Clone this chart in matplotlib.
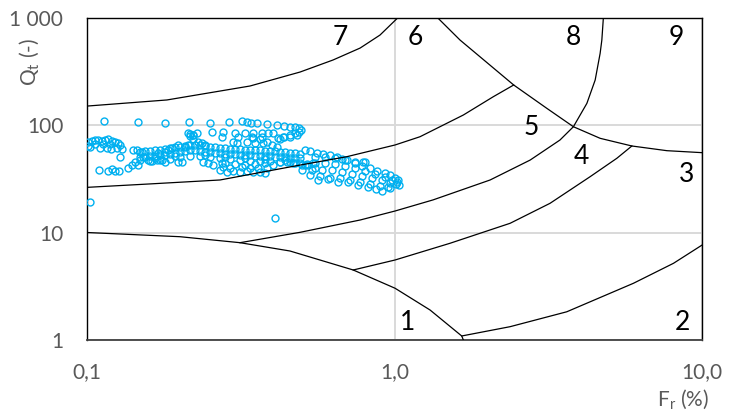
import numpy as np
import matplotlib as mpl
import matplotlib.pyplot as plt

mpl.rcParams['font.family'] = ['Lato', 'DejaVu Sans']

# zone boundaries (Fr %, Qt)
b7_fr = [0.1, 0.182, 0.339, 0.493, 0.631, 0.773, 0.897, 1.027]
b7_qt = [150, 171, 230.6, 311, 402.5, 520, 687, 1000]

b68_fr = [1.378, 1.633, 2.44, 3.126, 3.815, 4.66, 5.91, 7.68, 10.0]
b68_qt = [1000, 617, 235.6, 143, 96.4, 75.2, 63.8, 57.7, 55.3]

b89_fr = [4.775, 4.72, 4.66, 4.49, 4.22, 3.815, 3.45, 2.76, 2.045, 1.334, 1.004, 0.773, 0.493, 0.3145]
b89_qt = [1000, 617, 464, 262, 159, 96.4, 72.5, 47.2, 30.8, 20.1, 15.85, 13.07, 10.04, 8.04]

b56_fr = [0.1, 0.160, 0.2707, 0.493, 0.699, 1.004, 1.21, 1.674, 2.095, 2.44]
b56_qt = [26.3, 28.3, 30.8, 42.4, 50.7, 65.2, 77.8, 123.9, 183.4, 235.6]

b1_fr = [0.1, 0.2006, 0.3145, 0.457, 0.734, 1.004, 1.305, 1.654, 1.674]
b1_qt = [10, 9.14, 8.04, 6.73, 4.48, 3.03, 1.90, 1.089, 1.0]

b34_fr = [0.734, 1.004, 1.515, 2.375, 3.204, 4.32, 5.28, 5.91]
b34_qt = [4.48, 5.55, 7.94, 12.18, 18.7, 33.0, 49.0, 63.8]

b23_fr = [1.654, 2.375, 3.63, 5.98, 8.07, 10.0]
b23_qt = [1.09, 1.33, 1.83, 3.37, 5.17, 7.65]

zone_names = ['1', '2', '3', '4', '5', '6', '7', '8', '9']
zone_fr = [1.098, 8.61, 8.87, 4.04, 2.78, 1.166, 0.665, 3.81, 8.23]
zone_qt = [1.47, 1.47, 35.0, 50.4, 93.8, 645, 645, 645, 645]

# CPT points
top_fr = [0.1136, 0.1465, 0.1792, 0.2145, 0.2509, 0.2892, 0.3187, 0.3308, 0.3408, 0.3565, 0.3842,
          0.4141, 0.4363, 0.4563, 0.4737, 0.4882, 0.4955, 0.4882, 0.4737, 0.4563, 0.4330, 0.4172]
top_qt = [109, 106.6, 104.4, 106.6, 104.4, 106.6, 108.9, 106.6, 104.4, 104.4, 102.2,
          100, 97.9, 95.8, 95.8, 93.8, 89.8, 86.0, 84.2, 80.7, 77.3, 75.6]

row2_fr = [0.2129, 0.2277, 0.2547, 0.2765, 0.3025, 0.3259, 0.3460, 0.3701, 0.3871, 0.4019,
           0.2744, 0.3093, 0.3434, 0.3701, 0.4235, 0.4363, 0.4563, 0.4809, 0.2210,
           0.2161, 0.2210, 0.2294, 0.2363, 0.2417,
           0.2980, 0.3070, 0.3308, 0.3512, 0.3729, 0.3989, 0.4141, 0.3460, 0.3646, 0.3842]
row2_qt = [84.2, 84.2, 86.0, 86.0, 84.2, 84.2, 84.2, 84.2, 84.2, 84.2,
           77.3, 77.3, 77.3, 77.3, 74.1, 77.3, 77.3, 80.7, 80.7,
           79.0, 74.1, 69.5, 68.0, 65.2,
           69.5, 68.0, 69.5, 68.0, 68.0, 65.2, 62.5, 75.6, 74.1, 69.5]

left_fr = [0.1008, 0.1038, 0.1061, 0.1085, 0.1119, 0.1144, 0.1170, 0.1206, 0.1234, 0.1261, 0.1023,
           0.1102, 0.1161, 0.1197, 0.1252, 0.1299, 0.1280, 0.1008, 0.1061, 0.1127, 0.1188,
           0.1094, 0.1170, 0.1206, 0.1234, 0.1270, 0.1359, 0.1400, 0.1432, 0.1465, 0.1487, 0.1280, 0.1023]
left_qt = [69.5, 71.0, 72.5, 72.5, 71.0, 72.5, 74.1, 71.0, 69.5, 68.0, 62.5,
           61.2, 61.2, 59.9, 61.2, 59.9, 65.2, 63.8, 66.6, 66.6, 66.6,
           38.2, 37.4, 39.0, 37.4, 37.4, 39.9, 42.5, 45.3, 42.5, 47.3, 50.5, 19.2]

band_fr = [0.149, 0.154, 0.160, 0.166, 0.173, 0.179, 0.186, 0.193, 0.201, 0.208, 0.216, 0.224, 0.233,
           0.242, 0.251, 0.261, 0.271, 0.281, 0.292, 0.303, 0.314, 0.326, 0.339, 0.352, 0.365, 0.379,
           0.393, 0.408, 0.424, 0.440, 0.457, 0.474, 0.492,
           0.149, 0.154, 0.160, 0.166, 0.173, 0.179, 0.186, 0.193, 0.201, 0.208, 0.216, 0.224, 0.233,
           0.242, 0.251, 0.261, 0.271, 0.281, 0.292, 0.303, 0.314, 0.326, 0.339, 0.352, 0.365, 0.379,
           0.393, 0.408, 0.424, 0.440, 0.457, 0.474, 0.492,
           0.160, 0.173, 0.186, 0.201, 0.216, 0.233, 0.251, 0.271, 0.292, 0.314, 0.339, 0.365, 0.393,
           0.424, 0.457, 0.166, 0.193, 0.242, 0.281, 0.326, 0.379, 0.440,
           0.281, 0.303, 0.326, 0.352, 0.379]
band_qt = [56.2, 57.4, 57.4, 58.6, 58.6, 59.9, 61.2, 62.5, 62.5, 63.8, 65.2, 65.2, 65.2,
           63.8, 62.5, 62.5, 61.2, 61.2, 59.9, 59.9, 59.9, 58.6, 58.6, 58.6, 58.6, 57.4,
           57.4, 57.4, 56.2, 56.2, 55.0, 55.0, 53.8,
           50.5, 50.5, 51.6, 51.6, 52.7, 52.7, 53.8, 55.0, 56.2, 57.4, 58.6, 58.6, 57.4,
           56.2, 56.2, 55.0, 55.0, 53.8, 53.8, 53.8, 52.7, 52.7, 52.7, 51.6, 51.6, 51.6,
           51.6, 50.5, 50.5, 50.5, 49.4, 49.4, 49.4,
           46.3, 47.3, 48.4, 50.5, 51.6, 51.6, 50.5, 49.4, 48.4, 47.3, 46.3, 46.3, 46.3,
           45.3, 45.3, 49.4, 51.6, 52.7, 50.5, 49.4, 48.4, 47.3,
           44.4, 43.4, 42.5, 43.4, 44.4]

low_fr = [0.271, 0.285, 0.298, 0.314, 0.331, 0.346, 0.365, 0.379, 0.277, 0.292, 0.319, 0.339,
          0.359, 0.384, 0.402, 0.424, 0.446, 0.467, 0.492, 0.518, 0.542, 0.238, 0.247, 0.257,
          0.198, 0.275,
          0.141, 0.145, 0.151, 0.152, 0.158, 0.163, 0.169, 0.175, 0.170, 0.179, 0.183, 0.189,
          0.203, 0.179, 0.221, 0.216, 0.198, 0.208, 0.213, 0.408]
low_qt = [38.2, 36.6, 37.4, 36.6, 37.4, 36.6, 36.6, 35.8, 40.7, 39.9, 40.7, 39.9,
          39.9, 39.9, 42.5, 45.3, 45.3, 44.4, 44.4, 43.4, 44.4, 45.3, 44.4, 42.5,
          45.3, 44.4,
          58.6, 58.6, 56.2, 50.5, 47.3, 46.3, 47.3, 47.3, 55.0, 56.2, 58.6, 61.2,
          45.3, 45.3, 80.7, 82.4, 65.2, 62.5, 65.2, 13.6]

blob_fr = [0.511, 0.530, 0.559, 0.584, 0.616, 0.649, 0.674, 0.699, 0.742, 0.788, 0.800,
           0.550, 0.593, 0.639, 0.689, 0.742, 0.782, 0.831, 0.875, 0.929, 0.965, 1.001,
           0.511, 0.550, 0.593, 0.639, 0.689, 0.742, 0.800, 0.862, 0.929, 0.979, 1.017,
           0.499, 0.538, 0.580, 0.625, 0.674, 0.726, 0.782, 0.843, 0.909, 0.965,
           0.530, 0.571, 0.616, 0.664, 0.715, 0.771, 0.831, 0.895, 0.950,
           0.563, 0.607, 0.654, 0.705, 0.759, 0.818, 0.869, 0.909, 0.965, 1.009,
           1.024, 1.032, 0.474, 0.499, 0.522, 0.550]
blob_qt = [58.6, 57.4, 55.0, 53.8, 52.7, 50.5, 48.4, 47.3, 45.3, 45.3, 45.3,
           50.5, 50.5, 49.4, 47.3, 44.4, 41.6, 39.9, 37.4, 35.8, 34.3, 32.2,
           42.5, 44.4, 44.4, 43.4, 41.6, 39.9, 37.4, 35.1, 32.9, 30.8, 29.5,
           38.2, 38.2, 38.2, 38.2, 36.6, 35.1, 33.6, 32.2, 30.8, 28.9,
           34.3, 33.6, 32.2, 32.2, 30.8, 29.5, 28.3, 27.1, 26.5,
           30.8, 31.5, 29.5, 29.5, 27.7, 26.5, 25.4, 24.4, 26.0, 28.3,
           30.8, 27.7, 44.4, 42.5, 42.5, 39.9]

fig = plt.figure(figsize=(7.43, 4.16), dpi=100)
ax = fig.add_axes([0.117, 0.1827, 0.828, 0.7752])

ax.set_xscale('log')
ax.set_yscale('log')
ax.set_xlim(0.1, 10)
ax.set_ylim(1, 1000)

ax.grid(True, which='major', color='#d9d9d9', linewidth=1.4)
ax.set_axisbelow(True)

pts_fr = top_fr + row2_fr + left_fr + band_fr + low_fr + blob_fr
pts_qt = top_qt + row2_qt + left_qt + band_qt + low_qt + blob_qt
ax.plot(pts_fr, pts_qt, linestyle='none', marker='o', markersize=5.0,
        markerfacecolor='none', markeredgecolor='#00b0f0', markeredgewidth=1.0, zorder=3)

for fr, qt in [(b7_fr, b7_qt), (b68_fr, b68_qt), (b89_fr, b89_qt), (b56_fr, b56_qt),
               (b1_fr, b1_qt), (b34_fr, b34_qt), (b23_fr, b23_qt)]:
    ax.plot(fr, qt, color='black', linewidth=0.9, zorder=4)

for name, fr, qt in zip(zone_names, zone_fr, zone_qt):
    ax.text(fr, qt, name, fontsize=19, ha='center', va='center', color='black', zorder=5)

ax.set_xticks([0.1, 1, 10])
ax.set_xticklabels(['0,1', '1,0', '10,0'])
ax.set_yticks([1, 10, 100, 1000])
ax.set_yticklabels(['1', '10', '100', '1 000'])
ax.minorticks_off()
ax.tick_params(axis='both', length=0, labelsize=15, labelcolor='#595959')
ax.tick_params(axis='y', pad=17)
ax.tick_params(axis='x', pad=16)

for s in ['left', 'top', 'right']:
    ax.spines[s].set_color('black')
    ax.spines[s].set_linewidth(1.0)
ax.spines['bottom'].set_color('#404040')
ax.spines['bottom'].set_linewidth(1.3)

fig.text(709 / 743, 1 - 400 / 416, 'F$_\\mathregular{r}$ (%)', fontsize=15, color='#595959',
         ha='right', va='center')
fig.text(30 / 743, 1 - 62 / 416, 'Q$_\\mathregular{t}$ (-)', fontsize=15, color='#595959',
         ha='center', va='center', rotation=90)

fig.savefig('out.png', dpi=100)
